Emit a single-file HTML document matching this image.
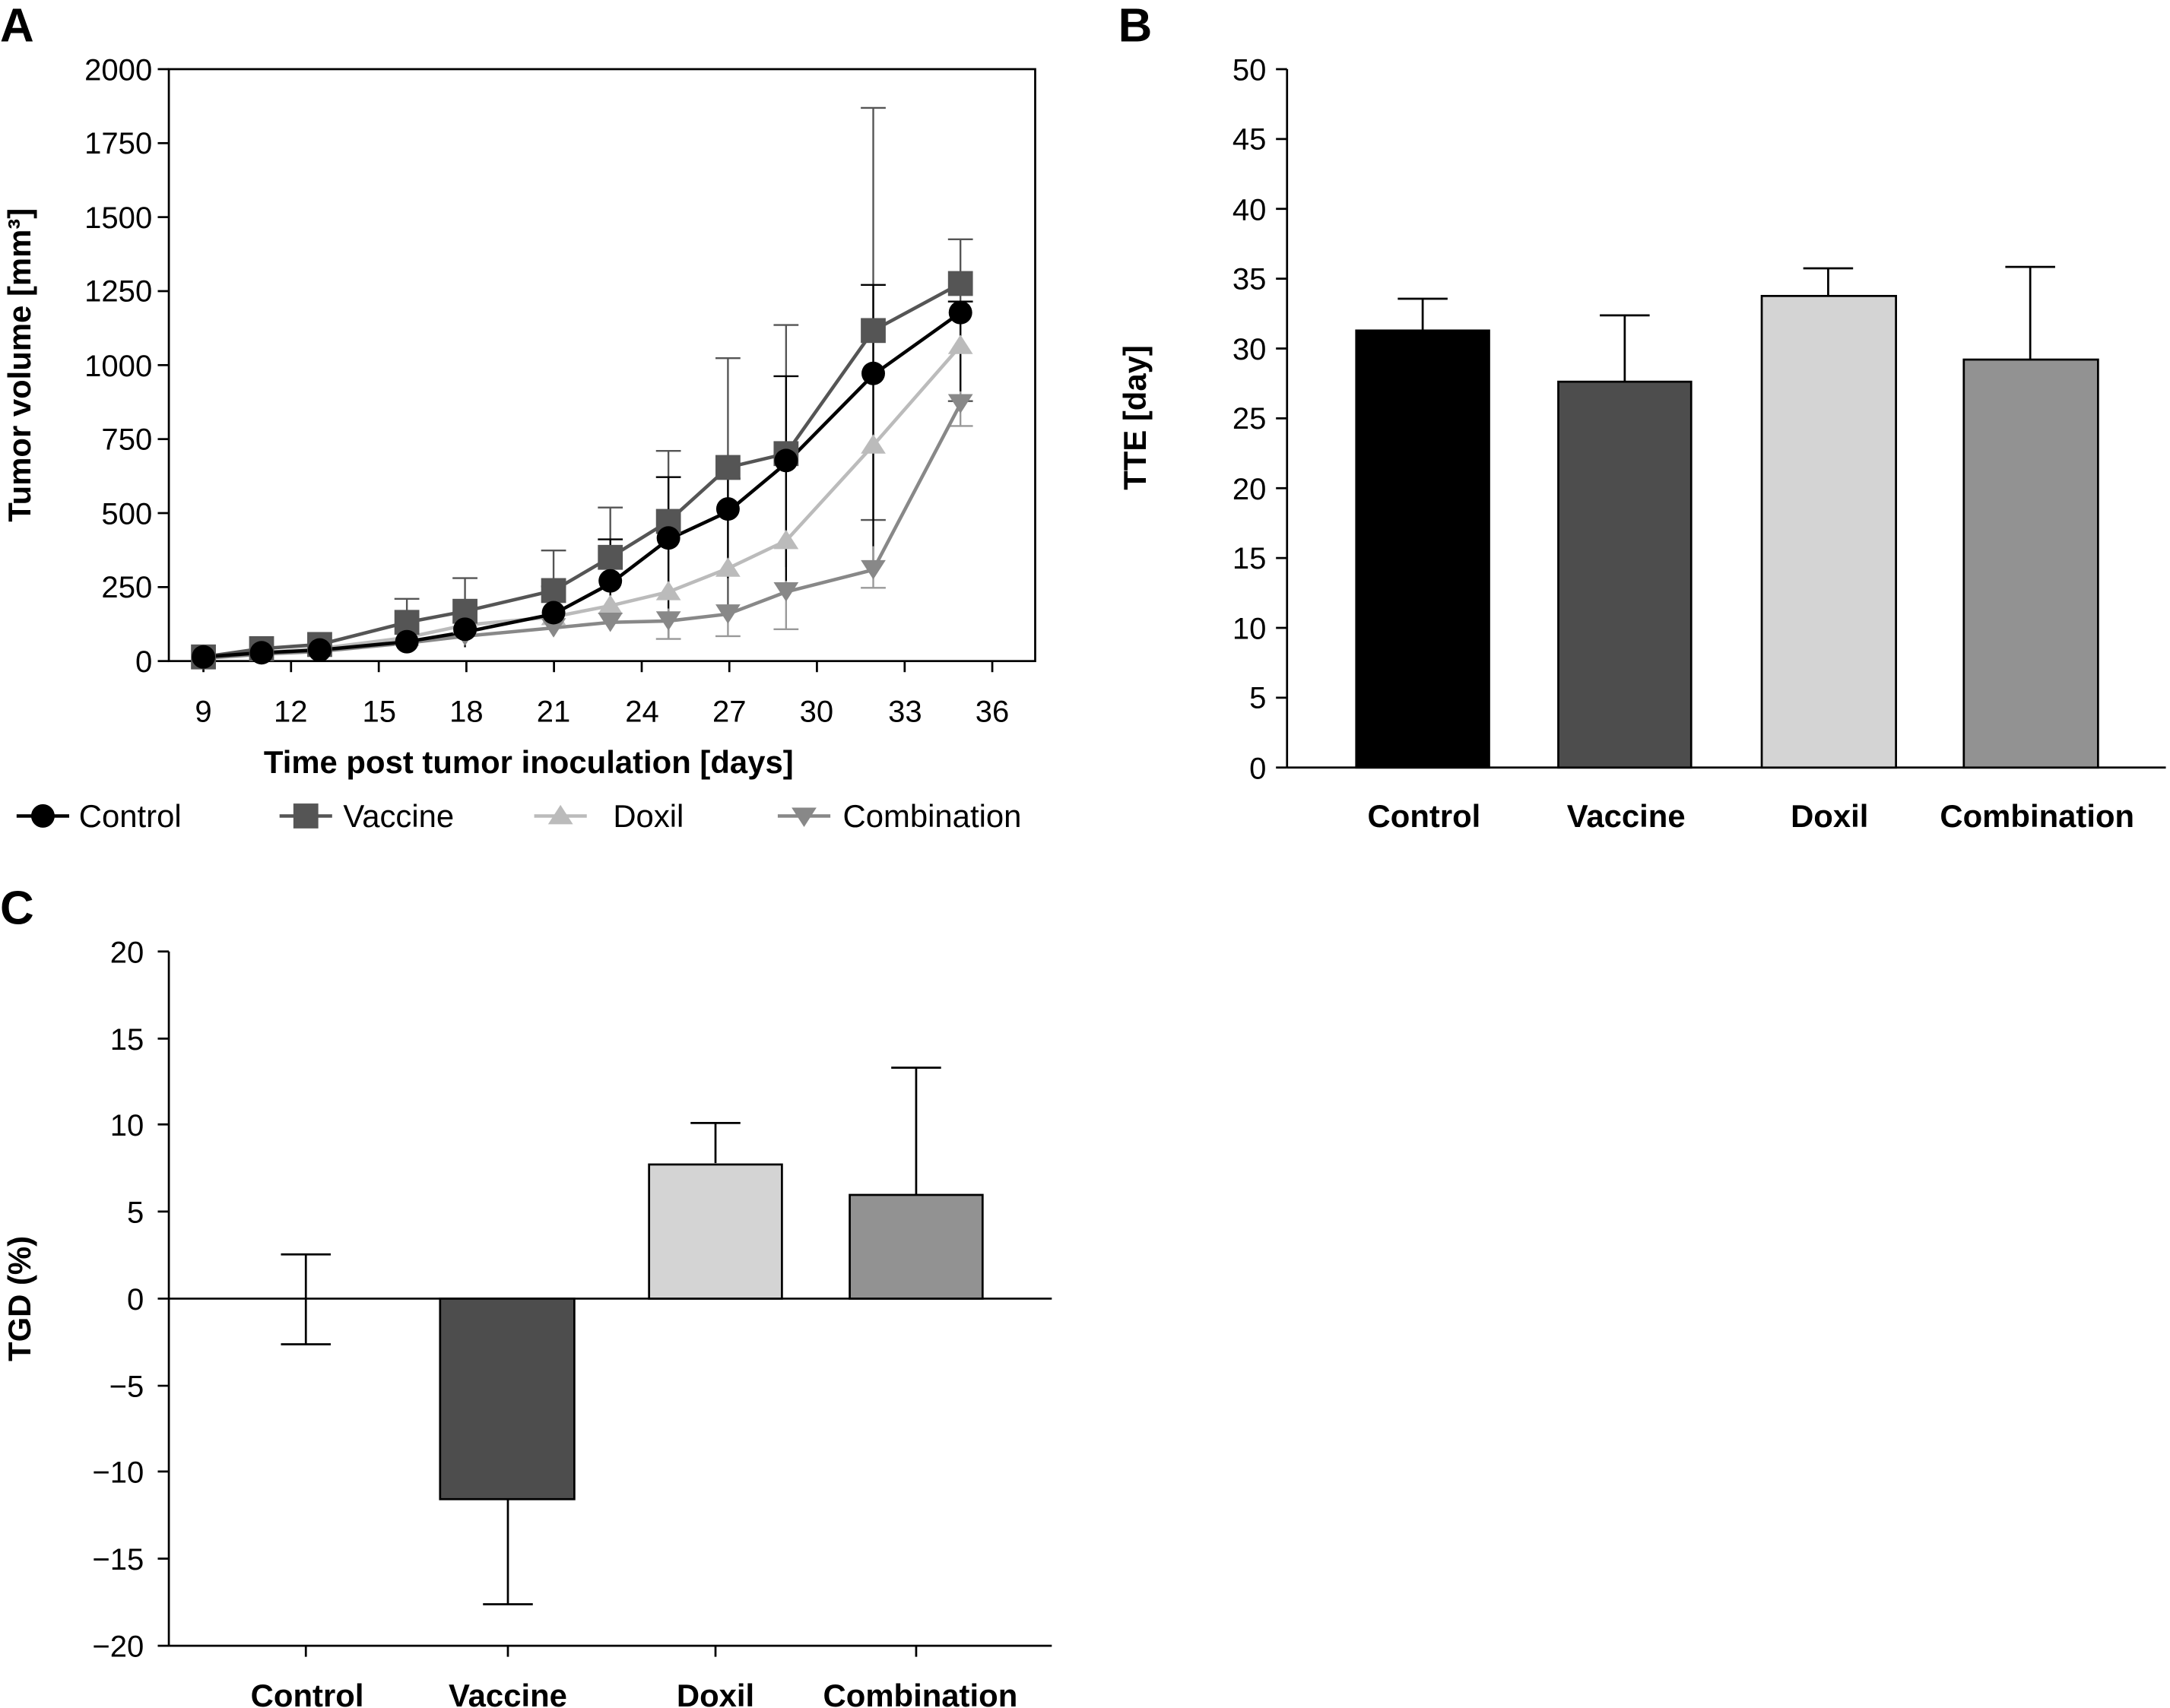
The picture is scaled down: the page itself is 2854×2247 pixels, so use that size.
<!DOCTYPE html>
<html><head><meta charset="utf-8"><style>html,body{margin:0;padding:0;background:#fff}svg{display:block}</style></head><body>
<svg width="2854" height="2247" viewBox="0 0 1568 1235" preserveAspectRatio="none" xmlns="http://www.w3.org/2000/svg" font-family="Liberation Sans, sans-serif">
<rect width="1568" height="1247" fill="#fff"/>
<text x="0" y="30" font-size="34" font-weight="bold">A</text>
<text x="808" y="30" font-size="34" font-weight="bold">B</text>
<text x="0" y="668" font-size="34" font-weight="bold">C</text>

<!-- Panel A -->
<g stroke="#000" stroke-width="1.5" fill="none">
<rect x="122" y="50" width="626" height="428"/>
<line x1="114" y1="50" x2="122" y2="50"/><line x1="114" y1="103.5" x2="122" y2="103.5"/><line x1="114" y1="157" x2="122" y2="157"/><line x1="114" y1="210.5" x2="122" y2="210.5"/><line x1="114" y1="264" x2="122" y2="264"/><line x1="114" y1="317.5" x2="122" y2="317.5"/><line x1="114" y1="371" x2="122" y2="371"/><line x1="114" y1="424.5" x2="122" y2="424.5"/><line x1="114" y1="478" x2="122" y2="478"/>
<line x1="147" y1="478" x2="147" y2="486"/><line x1="210.3" y1="478" x2="210.3" y2="486"/><line x1="273.7" y1="478" x2="273.7" y2="486"/><line x1="337" y1="478" x2="337" y2="486"/><line x1="400.3" y1="478" x2="400.3" y2="486"/><line x1="463.7" y1="478" x2="463.7" y2="486"/><line x1="527" y1="478" x2="527" y2="486"/><line x1="590.3" y1="478" x2="590.3" y2="486"/><line x1="653.7" y1="478" x2="653.7" y2="486"/><line x1="717" y1="478" x2="717" y2="486"/>
</g>
<g font-size="22" text-anchor="end">
<text x="110" y="58">2000</text><text x="110" y="111">1750</text><text x="110" y="165">1500</text><text x="110" y="218">1250</text><text x="110" y="272">1000</text><text x="110" y="325">750</text><text x="110" y="379">500</text><text x="110" y="432">250</text><text x="110" y="486">0</text>
</g>
<g font-size="22" text-anchor="middle">
<text x="147" y="522">9</text><text x="210" y="522">12</text><text x="274" y="522">15</text><text x="337" y="522">18</text><text x="400" y="522">21</text><text x="464" y="522">24</text><text x="527" y="522">27</text><text x="590" y="522">30</text><text x="654" y="522">33</text><text x="717" y="522">36</text>
</g>
<text x="382" y="559" font-size="23" font-weight="bold" text-anchor="middle">Time post tumor inoculation [days]</text>
<text transform="translate(22,264) rotate(-90)" font-size="23" font-weight="bold" text-anchor="middle">Tumor volume [mm³]</text>

<g stroke-width="1.3" fill="none">
<path stroke="#555" d="M631 78V376M622 78h18M622 376h18M694 173V290M685 173h18M685 290h18M568 235V410M559 235h18M526 259V445M517 259h18M483 326V433M474 326h18M441 367V420M432 367h18M400 398V455M391 398h18M336 418V462M327 418h18M294 433V465M285 433h18"/>
<path stroke="#000" d="M631 206V410M622 206h18M694 218V283M685 218h18M568 272V428M559 272h18M526 346V418M517 346h18M483 345V462M474 345h18M441 390V445M432 390h18M400 424V460M391 424h18M336 460V468M294 462V470"/>
<path stroke="#999" d="M631 395V425M622 425h18M694 283V308M685 308h18M568 420V455M559 455h18M526 440V460M517 460h18M483 440V462M474 462h18"/>
</g>
<g fill="none" stroke-width="2.5">
<polyline stroke="#bbb" points="147,476 189,472 231,469 294,461 336,452 400,446 441,438 483,428 526,411 568,391 631,322 694,250"/>
<polyline stroke="#888" points="147,476 189,473 231,471 294,465 336,460 400,454 441,450 483,449 526,444 568,428 631,412 694,292"/>
<polyline stroke="#555" points="147,475 189,469 231,466 294,450 336,442 400,427 441,403 483,377 526,338 568,328 631,239 694,205"/>
<polyline stroke="#000" points="147,475 189,472 231,470 294,464 336,457 400,444 441,422 483,390 526,370 568,335 631,271 694,226"/>
</g>
<g fill="#bbb"><path d="M189,464l9,14h-18z M231,461l9,14h-18z M294,453l9,14h-18z M336,444l9,14h-18z M400,438l9,14h-18z M441,430l9,14h-18z M483,420l9,14h-18z M526,403l9,14h-18z M568,383l9,14h-18z M631,314l9,14h-18z M694,242l9,14h-18z"/></g>
<g fill="#888"><path d="M147,483l9,-14h-18z M189,480l9,-14h-18z M336,467l9,-14h-18z M400,461l9,-14h-18z M441,457l9,-14h-18z M483,456l9,-14h-18z M526,451l9,-14h-18z M568,435l9,-14h-18z M631,419l9,-14h-18z M694,299l9,-14h-18z"/></g>
<g fill="#555"><rect x="138" y="466" width="18" height="18"/><rect x="180" y="460" width="18" height="18"/><rect x="222" y="457" width="18" height="18"/><rect x="285" y="441" width="18" height="18"/><rect x="327" y="433" width="18" height="18"/><rect x="391" y="418" width="18" height="18"/><rect x="432" y="394" width="18" height="18"/><rect x="474" y="368" width="18" height="18"/><rect x="517" y="329" width="18" height="18"/><rect x="559" y="319" width="18" height="18"/><rect x="622" y="230" width="18" height="18"/><rect x="685" y="196" width="18" height="18"/></g>
<g fill="#000"><circle cx="147" cy="475" r="8.5"/><circle cx="189" cy="472" r="8.5"/><circle cx="231" cy="470" r="8.5"/><circle cx="294" cy="464" r="8.5"/><circle cx="336" cy="455" r="8.5"/><circle cx="400" cy="443" r="8.5"/><circle cx="441" cy="420" r="8.5"/><circle cx="483" cy="389" r="8.5"/><circle cx="526" cy="368" r="8.5"/><circle cx="568" cy="333" r="8.5"/><circle cx="631" cy="270" r="8.5"/><circle cx="694" cy="226" r="8.5"/></g>
<g stroke-width="2.5">
<line x1="12" y1="590" x2="50" y2="590" stroke="#000"/><circle cx="31" cy="590" r="8.5" fill="#000"/>
<line x1="202" y1="590" x2="240" y2="590" stroke="#555"/><rect x="212" y="581" width="18" height="18" fill="#555"/>
<line x1="386" y1="590" x2="424" y2="590" stroke="#bbb"/><path d="M405,582l9,14h-18z" fill="#bbb"/>
<line x1="562" y1="590" x2="600" y2="590" stroke="#888"/><path d="M581,598l9,-14h-18z" fill="#888"/>
</g>
<g font-size="23"><text x="57" y="598">Control</text><text x="248" y="598">Vaccine</text><text x="443" y="598">Doxil</text><text x="609" y="598">Combination</text></g>

<!-- Panel B -->
<g stroke="#000" stroke-width="1.5" fill="none">
<line x1="930" y1="50" x2="930" y2="555"/><line x1="930" y1="555" x2="1565" y2="555"/>
<path d="M922 50h8M922 100.5h8M922 151h8M922 201.5h8M922 252h8M922 302.5h8M922 353h8M922 403.5h8M922 454h8M922 504.5h8M922 555h8"/>
<path d="M1028 239V216M1010 216h36M1174 276V228M1156 228h36M1321 215V194M1303 194h36M1467 260V193M1449 193h36"/>
</g>
<g font-size="22" text-anchor="end"><text x="915" y="58">50</text><text x="915" y="108">45</text><text x="915" y="159">40</text><text x="915" y="209">35</text><text x="915" y="260">30</text><text x="915" y="310">25</text><text x="915" y="361">20</text><text x="915" y="411">15</text><text x="915" y="462">10</text><text x="915" y="512">5</text><text x="915" y="563">0</text></g>
<g stroke="#000" stroke-width="1.5">
<rect x="980" y="239" width="96" height="316" fill="#000"/>
<rect x="1126" y="276" width="96" height="279" fill="#4d4d4d"/>
<rect x="1273" y="214" width="97" height="341" fill="#d4d4d4"/>
<rect x="1419" y="260" width="97" height="295" fill="#929292"/>
</g>
<text transform="translate(828,302) rotate(-90)" font-size="23" font-weight="bold" text-anchor="middle">TTE [day]</text>
<g font-size="23" font-weight="bold" text-anchor="middle"><text x="1029" y="598">Control</text><text x="1175" y="598">Vaccine</text><text x="1322" y="598">Doxil</text><text x="1472" y="598">Combination</text></g>

<!-- Panel C -->
<g stroke="#000" stroke-width="1.5" fill="none">
<line x1="122" y1="688" x2="122" y2="1190"/><line x1="122" y1="1190" x2="760" y2="1190"/><line x1="122" y1="939" x2="760" y2="939"/>
<path d="M114 688h8M114 751h8M114 813h8M114 876h8M114 939h8M114 1002h8M114 1064h8M114 1127h8M114 1190h8"/>
<path d="M221 1190v8M367 1190v8M517 1190v8M662 1190v8"/>
<path d="M221 907V972M203 907h36M203 972h36M367 1083V1160M349 1160h36M517 841V812M499 812h36M662 864V772M644 772h36"/>
</g>
<g font-size="22" text-anchor="end"><text x="104" y="696">20</text><text x="104" y="759">15</text><text x="104" y="821">10</text><text x="104" y="884">5</text><text x="104" y="947">0</text><text x="104" y="1010">−5</text><text x="104" y="1072">−10</text><text x="104" y="1135">−15</text><text x="104" y="1198">−20</text></g>
<g stroke="#000" stroke-width="1.5">
<rect x="318" y="939" width="97" height="145" fill="#4d4d4d"/>
<rect x="469" y="842" width="96" height="97" fill="#d4d4d4"/>
<rect x="614" y="864" width="96" height="75" fill="#929292"/>
</g>
<text transform="translate(22,939) rotate(-90)" font-size="23" font-weight="bold" text-anchor="middle">TGD (%)</text>
<g font-size="23" font-weight="bold" text-anchor="middle"><text x="222" y="1234">Control</text><text x="367" y="1234">Vaccine</text><text x="517" y="1234">Doxil</text><text x="665" y="1234">Combination</text></g>
</svg>
</body></html>
